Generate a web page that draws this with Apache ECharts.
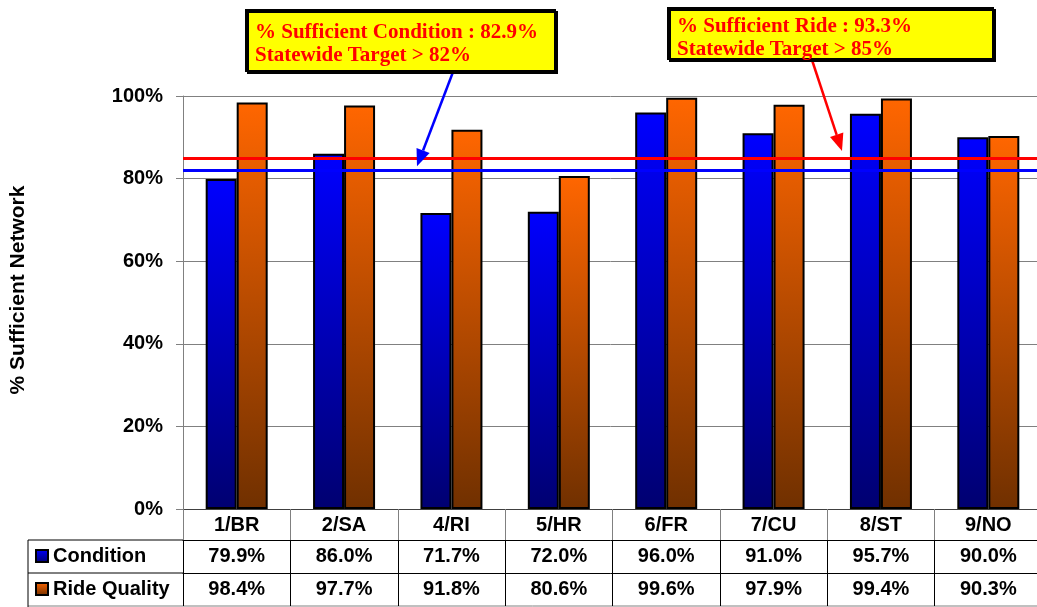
<!DOCTYPE html>
<html>
<head>
<meta charset="utf-8">
<script src="https://cdn.jsdelivr.net/npm/echarts@6/dist/echarts.min.js"></script>
<style>
  html, body { margin: 0; padding: 0; background: #ffffff; }
  #chart { width: 1037px; height: 607px; }
</style>
</head>
<body>
<div id="chart"></div>
<script>
// District results: share of network rated sufficient (%)
const districts = ['1/BR', '2/SA', '4/RI', '5/HR', '6/FR', '7/CU', '8/ST', '9/NO'];
const conditionPct = [79.9, 86.0, 71.7, 72.0, 96.0, 91.0, 95.7, 90.0];
const ridePct = [98.4, 97.7, 91.8, 80.6, 99.6, 97.9, 99.4, 90.3];
const seriesNames = ['Condition', 'Ride Quality'];
const yTicks = [0, 20, 40, 60, 80, 100];
const yTitle = '% Sufficient Network';
const conditionTarget = 82;
const rideTarget = 85;
const conditionNote = ['% Sufficient Condition : 82.9%', 'Statewide Target > 82%'];
const rideNote = ['% Sufficient Ride : 93.3%', 'Statewide Target > 85%'];

const SANS = 'Arial, "Liberation Sans", sans-serif';
const SERIF = '"Times New Roman", "Liberation Serif", serif';
const GRID = { left: 183, right: -5, top: 96, bottom: 98 };
// y offsets of the table row lines below the zero line
const ROW_OFFSETS = [0, 31, 64, 97];

function vGrad(top, bottom) {
  return new echarts.graphic.LinearGradient(0, 0, 0, 1, [
    { offset: 0, color: top }, { offset: 1, color: bottom }
  ]);
}
const blueFill = vGrad('#0000ff', '#000070');
const orangeFill = vGrad('#ff6600', '#703000');

function fmtPct(v) { return v.toFixed(1) + '%'; }

// one x axis per table row; the offset moves the row line and labels down
function tableAxis(row, formatter, tickColor) {
  const offset = ROW_OFFSETS[row];
  return {
    type: 'category',
    data: districts,
    position: 'bottom',
    offset: offset,
    boundaryGap: true,
    axisLine: { show: true, lineStyle: { color: row === 0 ? '#404040' : '#000000', width: 1 } },
    axisTick: { show: true, interval: 0, length: ROW_OFFSETS[row + 1] - offset,
                lineStyle: { color: tickColor, width: 1 } },
    axisLabel: {
      show: true, interval: 0, margin: 6,
      fontFamily: SANS, fontSize: 20, fontWeight: 'bold', color: '#000000',
      formatter: formatter
    },
    splitLine: { show: false }
  };
}

// legend entry sitting in the first column of a table row
function rowLegend(name, top) {
  return {
    data: [name],
    orient: 'horizontal',
    left: 35,
    top: top,
    padding: 0,
    itemWidth: 12,
    itemHeight: 12,
    icon: 'rect',
    selectedMode: false,
    itemStyle: { borderColor: '#000000', borderWidth: 2 },
    textStyle: { fontFamily: SANS, fontSize: 20, fontWeight: 'bold', color: '#000000', lineHeight: 20 }
  };
}

const chart = echarts.init(document.getElementById('chart'), null, { renderer: 'canvas' });

const option = {
  animation: false,
  backgroundColor: '#ffffff',
  grid: Object.assign({ outerBoundsMode: 'none', containLabel: false }, GRID),
  legend: [
    rowLegend(seriesNames[0], 546),
    rowLegend(seriesNames[1], 579)
  ],
  xAxis: [
    tableAxis(0, (v) => v, '#808080'),
    tableAxis(1, (v, i) => fmtPct(conditionPct[i]), '#000000'),
    tableAxis(2, (v, i) => fmtPct(ridePct[i]), '#000000')
  ],
  yAxis: {
    type: 'value',
    min: yTicks[0],
    max: yTicks[yTicks.length - 1],
    interval: yTicks[1] - yTicks[0],
    axisLine: { show: true, lineStyle: { color: '#808080', width: 1 } },
    axisTick: { show: true, length: 7, lineStyle: { color: '#808080' } },
    axisLabel: {
      margin: 20, fontFamily: SANS, fontSize: 20, fontWeight: 'bold', color: '#000000',
      formatter: '{value}%'
    },
    splitLine: { show: true, lineStyle: { color: '#808080', width: 1 } }
  },
  series: [
    {
      name: seriesNames[0],
      type: 'bar',
      xAxisIndex: 0,
      data: conditionPct,
      barWidth: 31,
      barGap: '0%',
      itemStyle: { color: blueFill, borderColor: '#000000', borderWidth: 2 },
      markLine: {
        silent: true, symbol: 'none', z: 10,
        label: { show: false },
        lineStyle: { color: '#0000ff', width: 3, type: 'solid' },
        data: [{ yAxis: conditionTarget }]
      }
    },
    {
      name: seriesNames[1],
      type: 'bar',
      xAxisIndex: 0,
      data: ridePct,
      barWidth: 31,
      barGap: '0%',
      itemStyle: { color: orangeFill, borderColor: '#000000', borderWidth: 2 },
      markLine: {
        silent: true, symbol: 'none', z: 10,
        label: { show: false },
        lineStyle: { color: '#ff0000', width: 3, type: 'solid' },
        data: [{ yAxis: rideTarget }]
      }
    }
  ]
};
chart.setOption(option);

// table frame for the legend column, axis title, callout boxes and their arrows
function noteBox(x, y, w, h, textDy, lines) {
  return {
    type: 'group',
    children: [
      {
        type: 'rect',
        shape: { x: x, y: y, width: w, height: h },
        style: { fill: '#ffff00', stroke: '#000000', lineWidth: 2,
                 shadowColor: '#000000', shadowOffsetX: 2, shadowOffsetY: 2, shadowBlur: 0 },
        z: 20
      },
      {
        type: 'text',
        x: x + 9, y: y + textDy,
        style: {
          text: lines.join('\n'),
          fill: '#ff0000',
          font: 'bold 21px ' + SERIF,
          lineHeight: 23
        },
        z: 21
      }
    ]
  };
}

function arrow(x0, y0, x1, y1, color) {
  const ang = Math.atan2(y1 - y0, x1 - x0);
  const len = 17, half = 7;
  const bx = x1 - len * Math.cos(ang), by = y1 - len * Math.sin(ang);
  const px = -Math.sin(ang) * half, py = Math.cos(ang) * half;
  return {
    type: 'group',
    children: [
      { type: 'line', shape: { x1: x0, y1: y0, x2: bx, y2: by },
        style: { stroke: color, lineWidth: 2.5 }, z: 18 },
      { type: 'polygon', shape: { points: [[x1, y1], [bx + px, by + py], [bx - px, by - py]] },
        style: { fill: color }, z: 18 }
    ]
  };
}

const yBase = chart.convertToPixel({ yAxisIndex: 0 }, 0);
const yCond = chart.convertToPixel({ yAxisIndex: 0 }, conditionTarget);
const yRide = chart.convertToPixel({ yAxisIndex: 0 }, rideTarget);
const tableLeft = 28;
const r1 = yBase + ROW_OFFSETS[1], r2 = yBase + ROW_OFFSETS[2], r3 = yBase + ROW_OFFSETS[3];

chart.setOption({
  graphic: [
    { type: 'line', shape: { x1: tableLeft, y1: r1, x2: GRID.left, y2: r1 }, style: { stroke: '#000000', lineWidth: 1 } },
    { type: 'line', shape: { x1: tableLeft, y1: r2, x2: GRID.left, y2: r2 }, style: { stroke: '#000000', lineWidth: 1 } },
    { type: 'line', shape: { x1: tableLeft, y1: r3, x2: 1037, y2: r3 }, style: { stroke: '#808080', lineWidth: 1 } },
    { type: 'line', shape: { x1: tableLeft, y1: r1, x2: tableLeft, y2: 607 }, style: { stroke: '#000000', lineWidth: 1 } },
    {
      type: 'text', x: 18, y: 290, rotation: Math.PI / 2,
      style: { text: yTitle, font: 'bold 21px ' + SANS, fill: '#000000', align: 'center', verticalAlign: 'middle' }
    },
    arrow(453, 72, 417, yCond - 4, '#0000ff'),
    arrow(812, 60, 842, yRide - 7, '#ff0000'),
    noteBox(246, 10, 309, 61, 11, conditionNote),
    noteBox(668, 8, 325, 51, 7, rideNote)
  ]
});
</script>
</body>
</html>
